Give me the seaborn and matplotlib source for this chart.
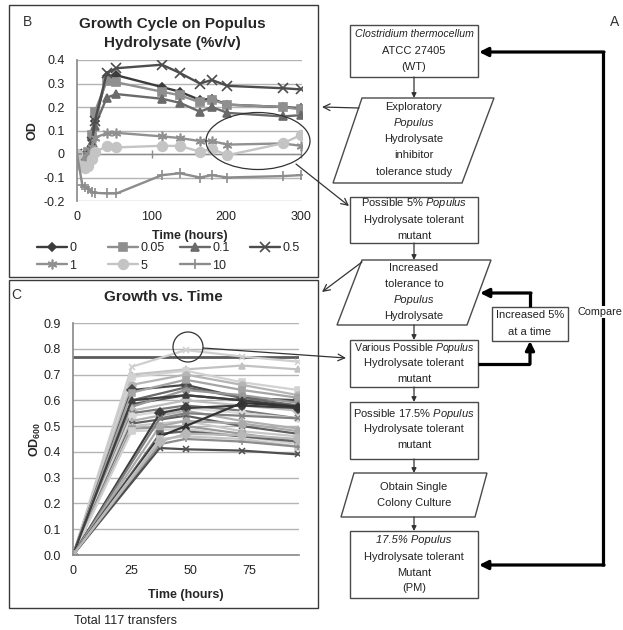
import matplotlib
matplotlib.use("Agg")
import matplotlib.pyplot as plt
import seaborn as sns
from matplotlib.patches import Rectangle, Polygon, Ellipse, Circle
from matplotlib.ticker import FuncFormatter, MultipleLocator

# ---------------- Panel B: growth on Populus hydrolysate (% v/v) ----------------
b_hours = [0, 7, 11, 15, 20, 24, 40, 53, 114, 138, 165, 181, 202, 276, 300]
b_conc_labels = ["0", "0.05", "0.1", "0.5", "1", "5", "10"]
b_od_0 = [0.0, -0.01, -0.02, 0.0, 0.06, 0.14, 0.33, 0.335, 0.285, 0.265, 0.23, 0.235, 0.21, 0.20, 0.195]
b_od_005 = [0.0, -0.01, -0.015, 0.01, 0.08, 0.18, 0.31, 0.305, 0.265, 0.25, 0.22, 0.23, 0.21, 0.20, 0.19]
b_od_01 = [0.0, -0.01, -0.02, 0.0, 0.05, 0.12, 0.24, 0.255, 0.235, 0.218, 0.18, 0.20, 0.175, 0.16, 0.165]
b_od_05 = [0.0, -0.01, -0.025, -0.01, 0.05, 0.14, 0.345, 0.365, 0.38, 0.345, 0.30, 0.315, 0.29, 0.28, 0.275]
b_od_1 = [0.0, -0.01, -0.02, 0.0, 0.03, 0.07, 0.088, 0.09, 0.075, 0.068, 0.055, 0.055, 0.04, 0.045, 0.035]
b_od_5 = [0.0, -0.05, -0.06, -0.05, -0.02, 0.01, 0.032, 0.028, 0.035, 0.034, 0.01, 0.022, -0.005, 0.045, 0.08]
b_od_10 = [0.0, -0.13, -0.14, -0.15, -0.16, -0.165, -0.168, -0.168, -0.09, -0.082, -0.10, -0.09, -0.10, -0.094, -0.09]
b_od = [b_od_0, b_od_005, b_od_01, b_od_05, b_od_1, b_od_5, b_od_10]

b_colors = ["#3c3c3c", "#8f8f8f", "#6a6a6a", "#4d4d4d", "#909090", "#c4c4c4", "#8c8c8c"]
b_markers = ["D", "s", "^", "x", (6, 2, 0), "o", "+"]
b_msizes = [4.5, 6, 6, 7, 7, 7, 7]

# ---------------- Panel C: growth vs. time over serial transfers ----------------
c_hours_early = [0, 25, 48, 72, 96]
c_hours_late = [0, 37, 48, 72, 96]
c_od_early = [
    [0, 0.73, 0.795, 0.77, 0.75],
    [0, 0.70, 0.72, 0.735, 0.72],
    [0, 0.69, 0.715, 0.67, 0.64],
    [0, 0.66, 0.70, 0.66, 0.62],
    [0, 0.64, 0.66, 0.61, 0.60],
    [0, 0.63, 0.68, 0.64, 0.61],
    [0, 0.60, 0.65, 0.61, 0.58],
    [0, 0.585, 0.62, 0.60, 0.57],
    [0, 0.575, 0.64, 0.62, 0.59],
    [0, 0.56, 0.60, 0.58, 0.56],
    [0, 0.55, 0.58, 0.56, 0.53],
    [0, 0.54, 0.57, 0.55, 0.53],
    [0, 0.52, 0.56, 0.52, 0.49],
    [0, 0.51, 0.54, 0.50, 0.47],
    [0, 0.50, 0.52, 0.48, 0.46],
    [0, 0.49, 0.50, 0.47, 0.44],
    [0, 0.48, 0.49, 0.46, 0.43],
    [0, 0.60, 0.62, 0.60, 0.575],
]
c_od_late = [
    [0, 0.55, 0.57, 0.58, 0.57],
    [0, 0.53, 0.55, 0.54, 0.53],
    [0, 0.50, 0.52, 0.51, 0.48],
    [0, 0.47, 0.48, 0.46, 0.44],
    [0, 0.46, 0.50, 0.59, 0.575],
    [0, 0.45, 0.46, 0.45, 0.42],
    [0, 0.43, 0.45, 0.44, 0.42],
    [0, 0.415, 0.41, 0.405, 0.39],
    [0, 0.44, 0.47, 0.465, 0.45],
]
wt_od_level = 0.77

c_colors_early = ["#cfcfcf", "#c2c2c2", "#d2d2d2", "#b5b5b5", "#4a4a4a", "#a5a5a5",
                  "#6a6a6a", "#555555", "#999999", "#bdbdbd", "#7a7a7a", "#d8d8d8",
                  "#b0b0b0", "#5f5f5f", "#c8c8c8", "#9a9a9a", "#d0d0d0", "#3f3f3f"]
c_markers_early = ["x", "^", "s", "o", "D", "s", "^", "x", (6, 2, 0), "D", "x", "o",
                   "^", "x", (6, 2, 0), "s", "s", "^"]
c_colors_late = ["#3c3c3c", "#808080", "#aaaaaa", "#666666", "#333333", "#c6c6c6",
                 "#8c8c8c", "#4f4f4f", "#b8b8b8"]
c_markers_late = ["D", "x", "o", "s", "^", "s", "+", "x", "D"]

# ---------------- style ----------------
sns.set_theme(style="white")
plt.rcParams["font.family"] = ["Liberation Sans", "DejaVu Sans"]
plt.rcParams["axes.unicode_minus"] = False
plt.rcParams["mathtext.fontset"] = "custom"
plt.rcParams["mathtext.rm"] = "Liberation Sans"
plt.rcParams["mathtext.it"] = "Liberation Sans:italic"
plt.rcParams["mathtext.bf"] = "Liberation Sans:bold"

W, H = 623, 630
fig = plt.figure(figsize=(W / 100, H / 100), dpi=100)


def px_axes(left, top, right, bottom, **kw):
    return fig.add_axes([left / W, 1 - bottom / H, (right - left) / W, (bottom - top) / H], **kw)


grid_color = "#b4b4b4"
spine_color = "#8c8c8c"


def style_axes(ax):
    ax.set_facecolor("none")
    ax.grid(axis="y", color=grid_color, lw=1.0)
    ax.grid(axis="x", visible=False)
    for s in ["top", "right"]:
        ax.spines[s].set_visible(False)
    ax.spines["left"].set_color(spine_color)
    ax.spines["bottom"].set_color(spine_color)
    ax.tick_params(axis="both", labelsize=9, colors="#222222", length=0)
    ax.tick_params(axis="y", pad=9)
    ax.tick_params(axis="x", pad=7)


# ---- panel B plot ----
ax_b = px_axes(77, 60, 302, 201)
b_lines = []
for lab, vals, col, mk, ms in zip(b_conc_labels, b_od, b_colors, b_markers, b_msizes):
    sns.lineplot(x=b_hours, y=vals, color=col, marker=mk, markersize=ms,
                 markeredgecolor=col, markeredgewidth=1.2, lw=1.7, legend=False, ax=ax_b)
    b_lines.append(ax_b.get_lines()[-1])
ax_b.set_xlim(0, 302)
ax_b.set_ylim(-0.2, 0.4)
ax_b.yaxis.set_major_locator(MultipleLocator(0.1))
ax_b.xaxis.set_major_locator(MultipleLocator(100))
ax_b.yaxis.set_major_formatter(FuncFormatter(lambda v, p: "0" if abs(v) < 1e-9 else f"{v:.1f}"))
style_axes(ax_b)
ax_b.spines["bottom"].set_visible(False)
ax_b.axhline(0, color=spine_color, lw=1.0, zorder=1)
ax_b.plot([100, 200, 300], [0, 0, 0], ls="none", marker="|", ms=6, color=spine_color, zorder=1)
ax_b.set_xlabel("Time (hours)", fontsize=9, fontweight="bold", labelpad=5)
ax_b.set_ylabel("OD", fontsize=9, fontweight="bold", labelpad=3)

# legend for panel B, laid out in four fixed columns
legend_cols = [(37, [0, 4]), (108, [1, 5]), (180, [2, 6]), (250, [3])]
for xcol, idx in legend_cols:
    fig.legend([b_lines[i] for i in idx], [b_conc_labels[i] for i in idx],
               loc="upper left", bbox_to_anchor=(xcol / W, 1 - 242 / H),
               frameon=False, fontsize=9, handlelength=2.4, handletextpad=0.2,
               labelspacing=0.45, borderpad=0, borderaxespad=0, numpoints=1)

# ---- panel C plot ----
ax_c = px_axes(73, 323, 299, 555)
ax_c.axhline(wt_od_level, color="#5c5c5c", lw=2.0, zorder=1.5)
for vals, col, mk in zip(c_od_early, c_colors_early, c_markers_early):
    sns.lineplot(x=c_hours_early, y=vals, color=col, marker=mk, markersize=5,
                 markeredgecolor=col, markeredgewidth=1.1, lw=1.6, legend=False, ax=ax_c)
for vals, col, mk in zip(c_od_late, c_colors_late, c_markers_late):
    sns.lineplot(x=c_hours_late, y=vals, color=col, marker=mk, markersize=5,
                 markeredgecolor=col, markeredgewidth=1.1, lw=1.6, legend=False, ax=ax_c)
ax_c.set_xlim(0, 96.3)
ax_c.set_ylim(0, 0.9)
ax_c.yaxis.set_major_locator(MultipleLocator(0.1))
ax_c.xaxis.set_major_locator(MultipleLocator(25))
ax_c.yaxis.set_major_formatter(FuncFormatter(lambda v, p: f"{v:.1f}"))
style_axes(ax_c)
ax_c.set_xlabel("Time (hours)", fontsize=9, fontweight="bold", labelpad=9)
ax_c.set_ylabel(r"OD$_{\mathbf{600}}$", fontsize=9, fontweight="bold", labelpad=0)

# ---------------- overlay: panel frames, titles and flowchart ----------------
ov = fig.add_axes([0, 0, 1, 1], zorder=10)
ov.set_xlim(0, W)
ov.set_ylim(H, 0)
ov.axis("off")

frame_kw = dict(fill=False, ec="#3a3a3a", lw=1.0)
ov.add_patch(Rectangle((9, 5), 309, 272, **frame_kw))
ov.add_patch(Rectangle((9, 280), 309, 328, **frame_kw))

ov.text(27, 22, "B", fontsize=10, ha="center", va="center", color="#333333")
ov.text(16, 295, "C", fontsize=10, ha="center", va="center", color="#333333")
ov.text(615, 22, "A", fontsize=10, ha="center", va="center", color="#333333")

ov.text(172, 24, "Growth Cycle on Populus", fontsize=11, fontweight="bold", ha="center", va="center")
ov.text(172, 43, "Hydrolysate (%v/v)", fontsize=11, fontweight="bold", ha="center", va="center")
ov.text(163, 297, "Growth vs. Time", fontsize=11, fontweight="bold", ha="center", va="center")
ov.text(126, 621, "Total 117 transfers", fontsize=9, ha="center", va="center", color="#222222")

shape_kw = dict(fc="white", ec="#4a4a4a", lw=1.0)
fs = 8
cx = 414


def rect(x0, y0, x1, y1):
    ov.add_patch(Rectangle((x0, y0), x1 - x0, y1 - y0, **shape_kw))


def para(tl, tr, br, bl):
    ov.add_patch(Polygon([tl, tr, br, bl], closed=True, **shape_kw))


def lines_at(xc, rows, size=fs, **kw):
    for s, y, *st in rows:
        style = st[0] if st else "normal"
        ov.text(xc, y, s, fontsize=size, ha="center", va="center", fontstyle=style,
                color="#222222", **kw)


rect(350, 25, 478, 77)
lines_at(cx, [("Clostridium thermocellum", 34, "italic")], size=7.6)
lines_at(cx, [("ATCC 27405", 51), ("(WT)", 67)])

para((362, 98), (494, 98), (462, 183), (333, 183))
lines_at(cx, [("Exploratory", 107), ("Populus", 123, "italic"), ("Hydrolysate", 139),
              ("inhibitor", 155), ("tolerance study", 172)])

rect(350, 197, 478, 243)
lines_at(cx, [(r"Possible 5% $\mathit{Populus}$", 203), ("Hydrolysate tolerant", 220), ("mutant", 236)])

para((362, 260), (491, 260), (467, 325), (337, 325))
lines_at(cx, [("Increased", 268), ("tolerance to", 284), ("Populus", 300, "italic"), ("Hydrolysate", 316)])

rect(350, 340, 478, 387)
lines_at(cx, [(r"Various Possible $\mathit{Populus}$", 348)], size=7.6)
lines_at(cx, [("Hydrolysate tolerant", 363), ("mutant", 379)])

rect(350, 402, 478, 459)
lines_at(cx, [(r"Possible 17.5% $\mathit{Populus}$", 414), ("Hydrolysate tolerant", 429), ("mutant", 445)])

para((354, 473), (487, 473), (475, 517), (341, 517))
lines_at(cx, [("Obtain Single", 487), ("Colony Culture", 503)])

rect(350, 531, 478, 598)
lines_at(cx, [("17.5% Populus", 540, "italic"), ("Hydrolysate tolerant", 557), ("Mutant", 573), ("(PM)", 588)])

rect(492, 307, 568, 341)
lines_at(530, [("Increased 5%", 315), ("at a time", 332)])


def arrow(p0, p1, style="-|>", lw=0.9, color="#333333", ms=7):
    ov.annotate("", xy=p1, xytext=p0,
                arrowprops=dict(arrowstyle=style, lw=lw, color=color, mutation_scale=ms,
                                shrinkA=0, shrinkB=0))


# thin flow arrows between steps
for y0, y1 in [(77, 98), (243, 260), (325, 340), (387, 402), (459, 473), (517, 531)]:
    arrow((cx, y0), (cx, y1))

# thick loop: increase 5% at a time
thick = dict(color="black", lw=2.3, solid_capstyle="butt")
ov.plot([478, 530], [364, 364], **thick)
arrow((530, 364), (530, 341), lw=2.3, color="black", ms=13)
ov.plot([530, 530], [307, 293], **thick)
arrow((531, 293), (480, 293), lw=2.3, color="black", ms=13)

# thick loop: compare mutant with wild type
ov.plot([603, 603], [51, 566], **thick)
arrow((604, 52), (479, 52), lw=2.3, color="black", ms=13)
arrow((604, 565), (479, 565), lw=2.3, color="black", ms=13)
ov.text(600, 312, "Compare", fontsize=7.8, ha="center", va="center", color="#222222",
        bbox=dict(fc="white", ec="none", pad=1.0))

# call-outs linking flowchart steps to the plots
ov.add_patch(Ellipse((258, 141), 104, 57, fill=False, ec="#333333", lw=0.9))
ov.add_patch(Circle((188, 347), 15, fill=False, ec="#333333", lw=0.9))
open_kw = dict(style="->", lw=0.9, color="#333333", ms=12)
arrow((359, 108), (322, 107), **open_kw)
arrow((296, 164), (349, 206), **open_kw)
arrow((362, 262), (322, 292), **open_kw)
arrow((203, 348), (346, 358), **open_kw)

fig.savefig("out.png", dpi=100)
